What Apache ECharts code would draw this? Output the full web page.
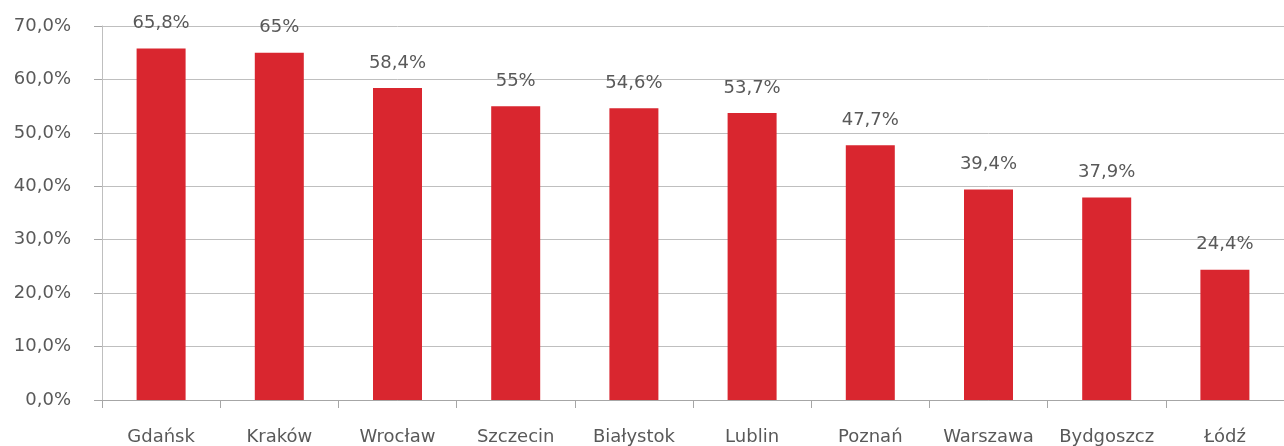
<!DOCTYPE html>
<html lang="pl">
<head>
  <meta charset="UTF-8">
  <title>bar</title>
  <style>
    html, body { margin:0; padding:0; background:#fff; }
    #chart { width:1284px; height:446px; }
  </style>
</head>
<body>
  <div id="chart"></div>
  <script src="https://cdn.jsdelivr.net/npm/echarts@6/dist/echarts.min.js"></script>
  <script>
    var cities = ['Gdańsk', 'Kraków', 'Wrocław', 'Szczecin', 'Białystok', 'Lublin', 'Poznań', 'Warszawa', 'Bydgoszcz', 'Łódź']
    var values = [65.8, 65, 58.4, 55, 54.6, 53.7, 47.7, 39.4, 37.9, 24.4]

    var font = '"DejaVu Sans", Verdana, sans-serif'
    var myChart = echarts.init(document.getElementById('chart'))
    var option = {
      animation: false,
      grid: { left: 102, top: 26, width: 1191, height: 374 },
      xAxis: {
        type: 'category',
        data: cities,
        axisLine: { lineStyle: { color: '#a6a6a6' } },
        axisTick: { show: true, interval: 0, length: 8, lineStyle: { color: '#a6a6a6' } },
        axisLabel: { interval: 0, hideOverlap: false, color: '#595959', fontSize: 18, fontFamily: font, margin: 28 }
      },
      yAxis: {
        type: 'value',
        min: 0,
        max: 70,
        interval: 10,
        axisLine: { show: true, lineStyle: { color: '#bfbfbf' } },
        axisTick: { show: true, length: 8, lineStyle: { color: '#a6a6a6' } },
        splitLine: { lineStyle: { color: '#bfbfbf' } },
        axisLabel: {
          color: '#595959', fontSize: 18, fontFamily: font, margin: 31,
          formatter: function (v) { return v.toFixed(1).replace('.', ',') + '%' }
        }
      },
      series: [{
        type: 'bar',
        data: values,
        barWidth: 49,
        itemStyle: { color: '#d9262f' },
        label: {
          show: true,
          position: 'top',
          distance: 16,
          color: '#595959',
          fontSize: 18,
          fontFamily: font,
          formatter: function (p) { return String(p.value).replace('.', ',') + '%' }
        }
      }]
    }
    myChart.setOption(option)
  </script>
</body>
</html>
